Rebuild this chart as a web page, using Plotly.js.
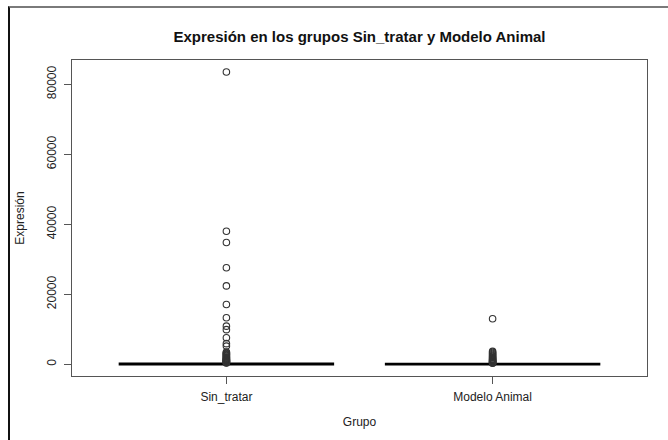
<!DOCTYPE html>
<html>
<head>
<meta charset="utf-8">
<script src="https://cdn.plot.ly/plotly-3.0.1.min.js"></script>
<style>
  html, body { margin: 0; padding: 0; background: #fff; }
  #wrap { position: relative; width: 668px; height: 440px; overflow: hidden; }
  #chart { position: absolute; left: 0; top: 0; width: 668px; height: 440px; }
  #frame { position: absolute; left: 8px; top: 6px; width: 670px; height: 450px;
           border-top: 2px solid #7a7a7a; border-left: 2px solid #111; pointer-events: none; }
</style>
</head>
<body>
<div id="wrap"><div id="chart"></div><div id="frame"></div></div>
<script>
// Groups
const groups = ["Sin_tratar", "Modelo Animal"];
const groupPos = [1, 2];
// Box statistics (box collapsed near zero)
const q1 = [0, 0];
const medians = [30, 30];
const q3 = [150, 120];
const lowerFence = [0, 0];
const upperFence = [150, 120];
// Outliers
const outliersSinTratar = [83500, 38000, 34800, 27600, 22400, 17100, 13300, 10900, 9900, 7600,
  5900, 5200, 3500, 3300, 3100, 2900, 2700, 2500, 2300, 2100, 1900, 1750, 1600, 1450, 1300,
  1200, 1100, 1000, 900, 800, 720, 650, 550, 450, 380];
const outliersModelo = [13000, 3700, 3400, 3100, 2800, 2500, 2250, 2000, 1800, 1600, 1400,
  1250, 1100, 950, 820, 700, 600, 500, 400, 320];
// Axis ticks
const yTicks = [0, 20000, 40000, 60000, 80000];
const yTickText = ["0", "20000", "40000", "60000", "80000"];

const font = "Liberation Sans, Arial, Helvetica, sans-serif";

const boxTrace = {
  type: "box",
  x: groupPos,
  q1: q1, median: medians, q3: q3,
  lowerfence: lowerFence, upperfence: upperFence,
  width: 0.8,
  whiskerwidth: 0,
  fillcolor: "rgba(0,0,0,0)",
  line: { color: "#000", width: 2.5 },
  hoverinfo: "skip",
  showlegend: false
};

const outX = [];
const outY = [];
outliersSinTratar.forEach(v => { outX.push(groupPos[0]); outY.push(v); });
outliersModelo.forEach(v => { outX.push(groupPos[1]); outY.push(v); });

const outTrace = {
  type: "scatter",
  mode: "markers",
  x: outX, y: outY,
  marker: { symbol: "circle-open", size: 6.5, color: "#333", line: { width: 1.1, color: "#333" } },
  hoverinfo: "skip",
  showlegend: false
};

const layout = {
  width: 668, height: 440,
  margin: { l: 72, r: 21, t: 60, b: 64, pad: 0 },
  paper_bgcolor: "#fff", plot_bgcolor: "#fff",
  font: { family: font, size: 12, color: "#222" },
  title: {
    text: "<b>Expresión en los grupos Sin_tratar y Modelo Animal</b>",
    font: { family: font, size: 15, color: "#111" },
    x: 0.5, xref: "paper", xanchor: "center",
    y: 1 - 37 / 440, yref: "container", yanchor: "middle"
  },
  xaxis: {
    range: [0.42, 2.58],
    tickvals: groupPos, ticktext: groups,
    ticks: "outside", ticklen: 7, tickcolor: "#555", tickwidth: 1,
    showline: true, mirror: true, linecolor: "#555", linewidth: 1,
    showgrid: false, zeroline: false,
    tickfont: { family: font, size: 12, color: "#222" },
    ticklabelstandoff: 3,
    title: { text: "Grupo", font: { family: font, size: 12, color: "#222" }, standoff: 14 },
    automargin: false
  },
  yaxis: {
    range: [-3344, 86944],
    tickvals: yTicks, ticktext: yTickText,
    tickangle: -90,
    ticks: "outside", ticklen: 7, tickcolor: "#555", tickwidth: 1,
    showline: true, mirror: true, linecolor: "#555", linewidth: 1,
    showgrid: false, zeroline: false,
    tickfont: { family: font, size: 12, color: "#222" },
    ticklabelstandoff: 3,
    title: { text: "Expresión", font: { family: font, size: 12, color: "#222" }, standoff: 18 },
    automargin: false
  },
  showlegend: false
};

Plotly.newPlot("chart", [boxTrace, outTrace], layout, { displayModeBar: false, staticPlot: true });
</script>
</body>
</html>
